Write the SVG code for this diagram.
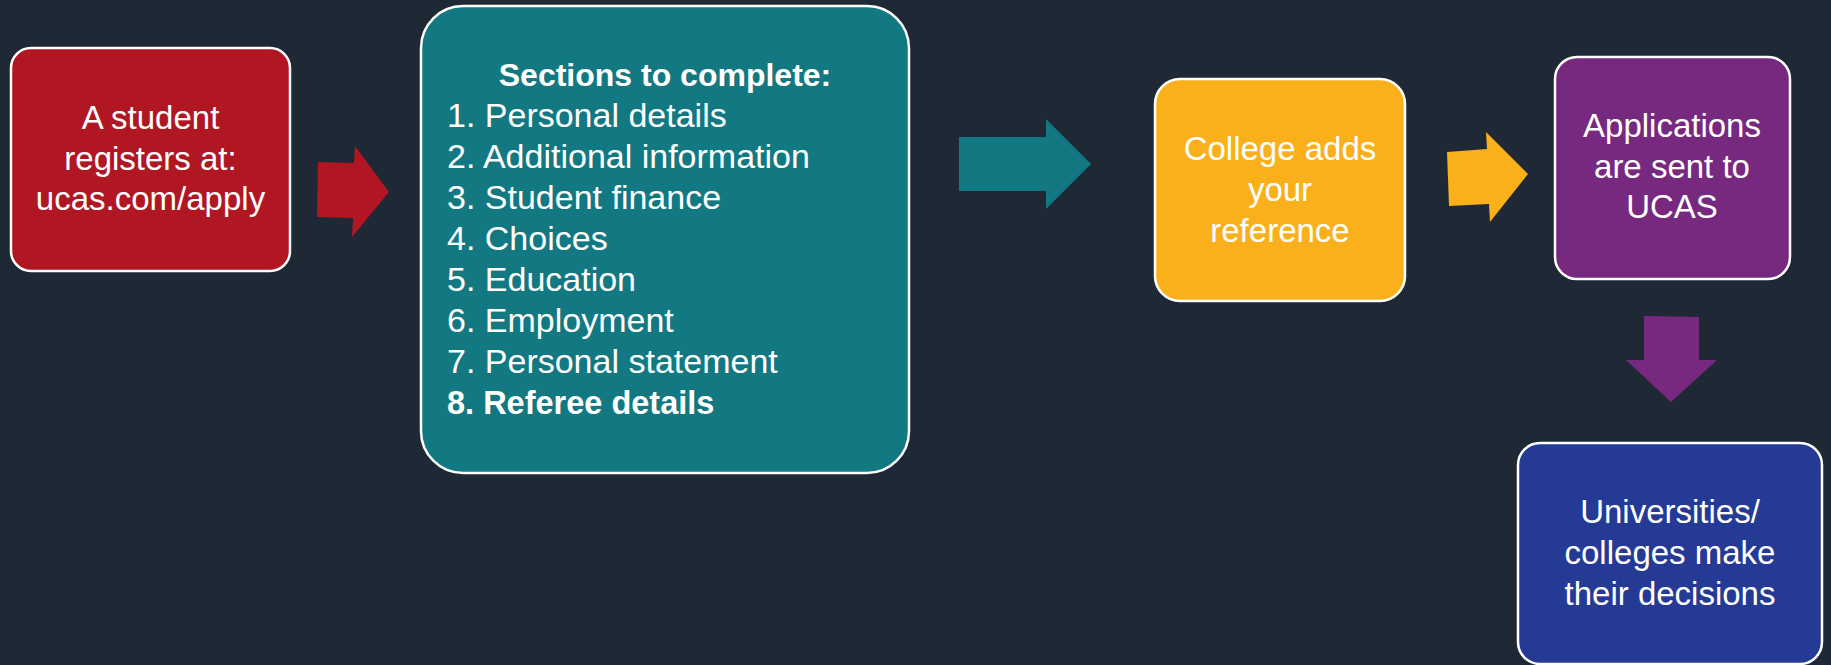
<svg xmlns="http://www.w3.org/2000/svg" width="1831" height="665" viewBox="0 0 1831 665">
<style>
.box{stroke:#FFFFFF;stroke-width:2.5}
.t{font-family:"Liberation Sans",Arial,sans-serif;font-size:33px;fill:#FFFFFF}
.c{text-anchor:middle}
.l{font-size:34px}
.b{font-weight:bold;font-size:32.5px}
</style>
<rect x="0" y="0" width="1831" height="665" fill="#1F2835"/>
<g id="connectors">
<polygon points="318,162 354,163 355,146 389,192 352,237 353,218 317,217" fill="#B01722"/>
<polygon points="959,137 1046,137 1046,119 1091,164 1046,209 1046,191 959,191" fill="#127882"/>
<polygon points="1447,152 1487,149 1486,132 1528,174 1490,222 1489,204 1449,206" fill="#FAB01A"/>
<polygon points="1644,316 1699,317 1699,360 1717,360 1671,402 1626,360 1644,360" fill="#772980"/>
</g>
<g id="node-register">
<rect class="box" x="11" y="48" width="279" height="223" rx="20" fill="#B01722"/>
<text class="t c" x="150.5" y="129">A student</text>
<text class="t c" x="150.5" y="170">registers at:</text>
<text class="t c" x="150.5" y="210">ucas.com/apply</text>
</g>
<g id="node-sections">
<rect class="box" x="421" y="6" width="488" height="467" rx="42" fill="#127882"/>
<text class="t c b" x="665" y="86" style="font-size:32px">Sections to complete:</text>
<text class="t l" x="447" y="127">1. Personal details</text>
<text class="t l" x="447" y="168">2. Additional information</text>
<text class="t l" x="447" y="209">3. Student finance</text>
<text class="t l" x="447" y="250">4. Choices</text>
<text class="t l" x="447" y="291">5. Education</text>
<text class="t l" x="447" y="332">6. Employment</text>
<text class="t l" x="447" y="373">7. Personal statement</text>
<text class="t b" x="447" y="414">8. Referee details</text>
</g>
<g id="node-reference">
<rect class="box" x="1155" y="79" width="250" height="222" rx="25" fill="#FAB01A"/>
<text class="t c" x="1280" y="160">College adds</text>
<text class="t c" x="1280" y="201">your</text>
<text class="t c" x="1280" y="242">reference</text>
</g>
<g id="node-ucas">
<rect class="box" x="1555" y="57" width="235" height="222" rx="22" fill="#772980"/>
<text class="t c" x="1672" y="137">Applications</text>
<text class="t c" x="1672" y="178">are sent to</text>
<text class="t c" x="1672" y="218">UCAS</text>
</g>
<g id="node-decisions">
<rect class="box" x="1518" y="443" width="304" height="221" rx="22" fill="#243A95"/>
<text class="t c" x="1670" y="523">Universities/</text>
<text class="t c" x="1670" y="564">colleges make</text>
<text class="t c" x="1670" y="605">their decisions</text>
</g>
</svg>
